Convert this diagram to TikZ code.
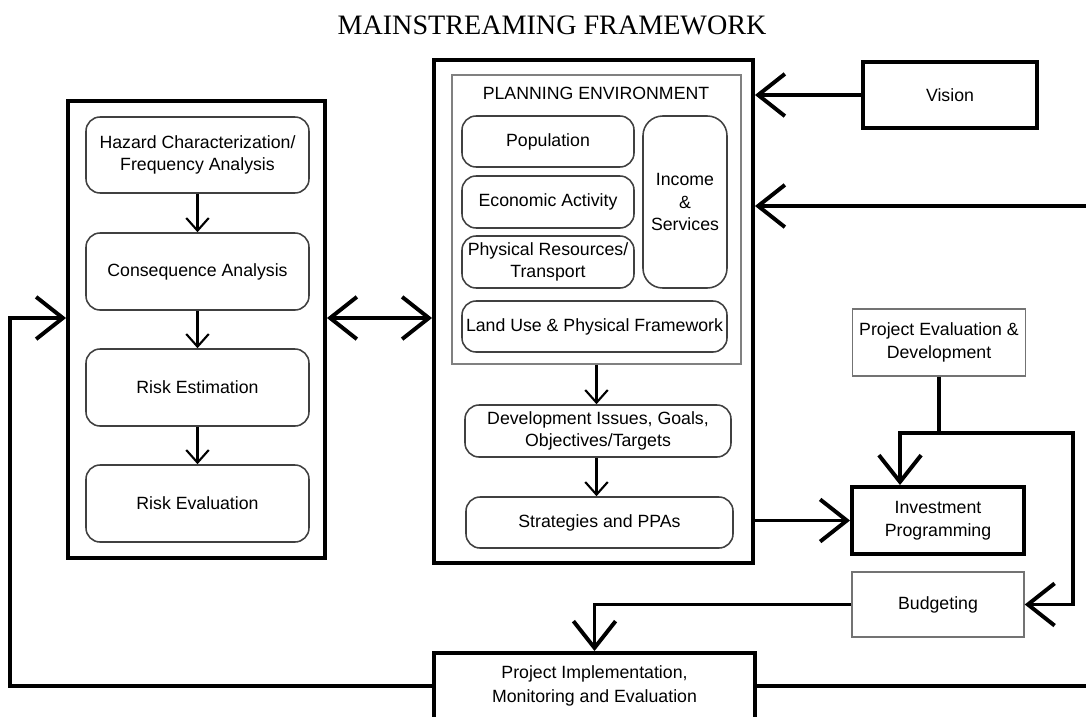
\documentclass[tikz,border=0pt]{standalone}
\usepackage{fontspec}
\setmainfont{Liberation Sans}
\newfontfamily\titlefont{Liberation Serif}
\usetikzlibrary{arrows.meta}

\def\pxl{0.025cm}
\tikzset{
  bigtip/.tip={Straight Barb[length=19pt,width=30pt]},
  smalltip/.tip={Straight Barb[length=9pt,width=16pt]},
  heavybox/.style={draw,line width=2.8pt,align=center,inner sep=0pt},
  thinbox/.style={draw=black!55,line width=1pt,align=center,inner sep=0pt},
  stagebox/.style={draw=black!75,line width=1.1pt,rounded corners=10pt,align=center,inner sep=0pt},
  envbox/.style={draw=black!50,line width=1.3pt,inner sep=0pt},
  heavyline/.style={line width=2.8pt},
  flowline/.style={line width=1.5pt,-smalltip},
}

\begin{document}
\begin{tikzpicture}[x=0.025cm,y=-0.025cm,font=\fontsize{12.6}{16}\selectfont]
    \useasboundingbox (0,0) rectangle (1086,717);
    \node[font=\titlefont\fontsize{20}{24}\selectfont] (title) at (552,25) {MAINSTREAMING FRAMEWORK};
    \coordinate (loopL) at (10,318);
    \coordinate (feedR) at (1086,206);
    \coordinate (split) at (939,433);
    \coordinate (splitL) at (900,433);
    \coordinate (splitR) at (1073,433);
    \node[heavybox,minimum width=257*\pxl,minimum height=457*\pxl] (riskbox) at (196.5,329.5) {};
    \node[stagebox,minimum width=223*\pxl,minimum height=76*\pxl] (hazard) at (197.5,155) {Hazard Characterization/\\Frequency Analysis};
    \node[stagebox,minimum width=223*\pxl,minimum height=77*\pxl] (conseq) at (197.5,271.5) {Consequence Analysis};
    \node[stagebox,minimum width=223*\pxl,minimum height=77*\pxl] (estim) at (197.5,387.5) {Risk Estimation};
    \node[stagebox,minimum width=223*\pxl,minimum height=77*\pxl] (evalu) at (197.5,503.5) {Risk Evaluation};
    \draw[flowline] (hazard.south) -- (conseq.north);
    \draw[flowline] (conseq.south) -- (estim.north);
    \draw[flowline] (estim.south) -- (evalu.north);
    \node[heavybox,minimum width=319*\pxl,minimum height=503*\pxl] (central) at (593.5,311.5) {};
    \node[envbox,minimum width=289*\pxl,minimum height=289*\pxl] (env) at (596.5,219.5) {};
    \node (envtitle) at (596,93) {PLANNING ENVIRONMENT};
    \node[stagebox,minimum width=172*\pxl,minimum height=51*\pxl] (popul) at (548,141.5) {Population};
    \node[stagebox,minimum width=172*\pxl,minimum height=52*\pxl] (econ) at (548,202) {Economic Activity};
    \node[stagebox,minimum width=172*\pxl,minimum height=52*\pxl] (phys) at (548,262) {Physical Resources/\\Transport};
    \node[stagebox,rounded corners=14pt,minimum width=84*\pxl,minimum height=172*\pxl] (income) at (685,202) {Income\\\&\\Services};
    \node[stagebox,minimum width=265*\pxl,minimum height=51*\pxl] (landuse) at (594.5,326.5) {Land Use \& Physical Framework};
    \node[stagebox,minimum width=266*\pxl,minimum height=52*\pxl] (issues) at (598,431) {Development Issues, Goals,\\Objectives/Targets};
    \node[stagebox,minimum width=267*\pxl,minimum height=51*\pxl] (strat) at (599.5,522.5) {Strategies and PPAs};
    \draw[flowline] (env.south) -- (env.south |- issues.north);
    \draw[flowline] (issues.south -| env.south) -- (env.south |- strat.north);
    \node[heavybox,minimum width=174*\pxl,minimum height=66*\pxl] (vision) at (950,95) {Vision};
    \node[thinbox,minimum width=173*\pxl,minimum height=67*\pxl] (projeval) at (939,342.5) {Project Evaluation \&\\Development};
    \node[heavybox,minimum width=172*\pxl,minimum height=67*\pxl] (invest) at (938,520.5) {Investment\\Programming};
    \node[thinbox,minimum width=172*\pxl,minimum height=65*\pxl] (budget) at (938,604.5) {Budgeting};
    \node[heavybox,minimum width=321*\pxl,minimum height=66*\pxl,font=\fontsize{12.6}{17.5}\selectfont] (impl) at (594.5,686) {Project Implementation,\\Monitoring and Evaluation};
    \draw[heavyline,-bigtip] (impl.west) -| (loopL) -- (loopL -| riskbox.west);
    \draw[heavyline,bigtip-bigtip] (loopL -| riskbox.east) -- (loopL -| central.west);
    \draw[heavyline,-bigtip] (vision.west) -- (vision.west -| central.east);
    \draw[heavyline,-bigtip] (feedR) -- (feedR -| central.east);
    \draw[heavyline] (impl.east) -- (impl.east -| feedR);
    \draw[heavyline,-bigtip] (central.east |- invest.west) -- (invest.west);
    \draw[heavyline] (projeval.south) -- (split);
    \draw[heavyline,-bigtip] (split) -- (splitL) -- (splitL |- invest.north);
    \draw[heavyline,-bigtip] (split) -- (splitR) |- (budget.east);
    \draw[heavyline,-bigtip] (budget.west) -| (impl.north);
\end{tikzpicture}
\end{document}
